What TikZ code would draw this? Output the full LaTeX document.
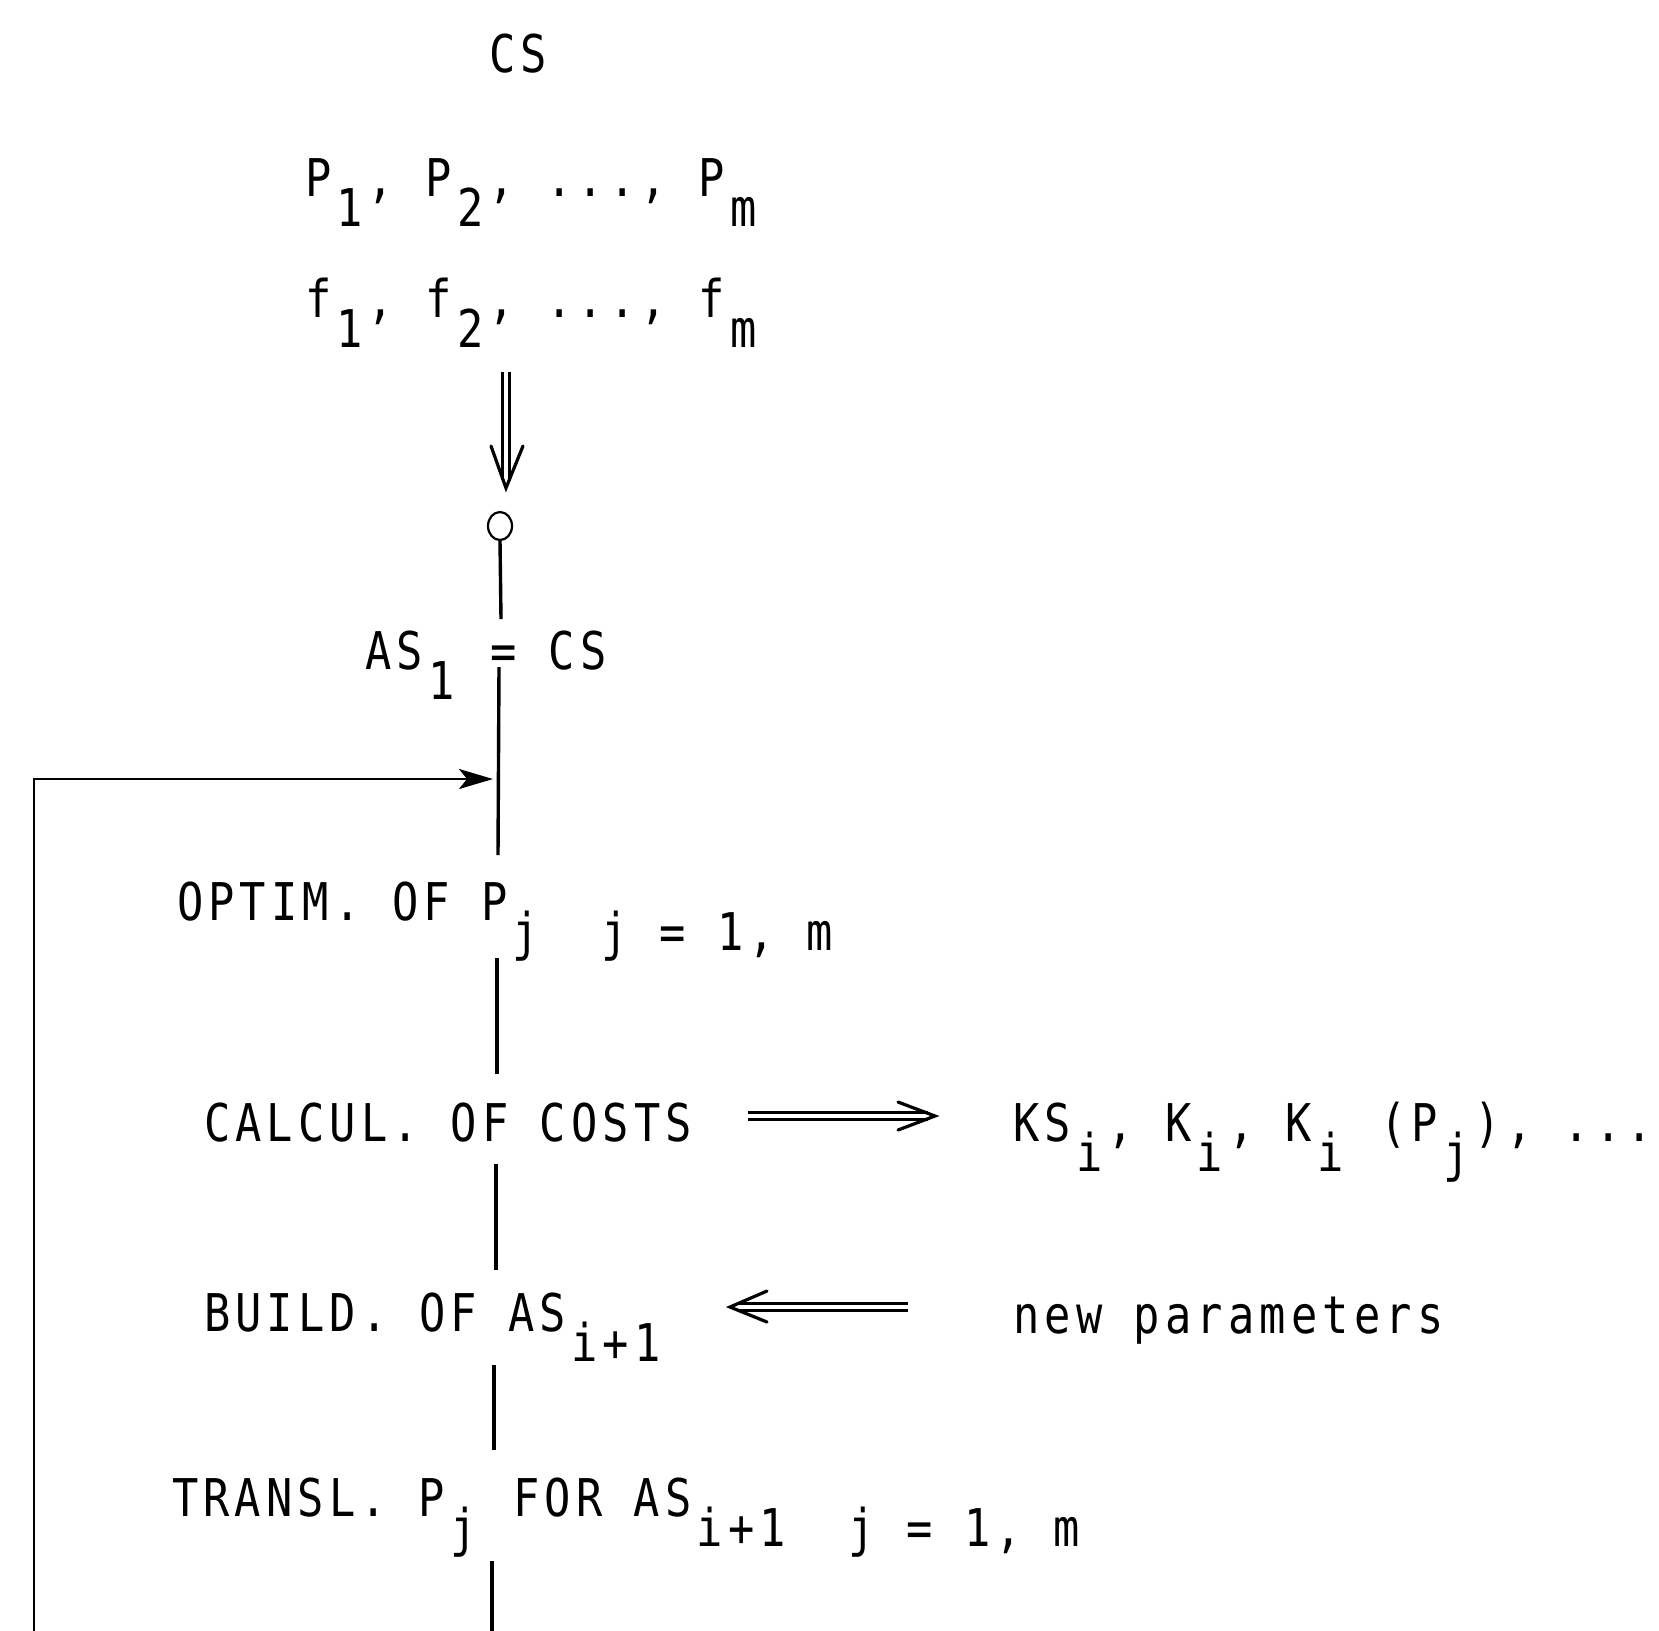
\documentclass[tikz,border=0pt]{standalone}
\usepackage{fontspec}
\setmonofont{DejaVu Sans Mono}[FakeStretch=0.84,LetterSpace=10]
\usetikzlibrary{arrows.meta,shapes.geometric}
\newcommand\lo[1]{\kern2.6pt\raisebox{-15pt}{#1\kern2.6pt}}
\newcommand\mytt{\ttfamily\fontsize{26}{30}\selectfont
  \spaceskip=15.7pt\relax\xspaceskip=15.7pt\relax}
\frenchspacing
\begin{document}
\begin{tikzpicture}[x=0.5pt,y=-0.5pt,
  txt/.style={inner sep=0pt,outer sep=0pt,anchor=base west,font=\mytt},
  spine/.style={line width=1.7pt},
  dshaft/.style={double,double distance=2.4pt,line width=1.3pt},
  barb/.style={line width=1.6pt,line join=miter,line cap=round},
]
\useasboundingbox (0,0) rectangle (1659,1630);
% texts
\node[txt,anchor=base] (cs) at (518,72) {CS};
\node[txt] (prow) at (305,196) {P\lo{1}, P\lo{2}, ..., P\lo{m}};
\node[txt] (frow) at (305,317) {f\lo{1}, f\lo{2}, ..., f\lo{m}};
\node[txt] (as) at (365,669) {AS\lo{1} = CS};
\node[txt] (optim) at (177,920) {OPTIM. OF P\lo{j\ \ j = 1, m}};
\node[txt] (calc) at (204,1141) {CALCUL. OF COSTS};
\node[txt] (ks) at (1013,1141) {KS\lo{i}, K\lo{i}, K\lo{i} (P\lo{j}), ...};
\node[txt] (build) at (204,1331) {BUILD. OF AS\lo{i+1}};
\node[txt] (newp) at (1013,1333) {new parameters};
\node[txt] (transl) at (172,1516) {TRANSL. P\lo{j} FOR AS\lo{i+1\ \ j = 1, m}};
% start circle
\node[draw,ellipse,minimum width=12pt,minimum height=14pt,inner sep=0pt,line width=1.1pt] (o) at (500,526) {};
% spine coordinates
\coordinate (ta) at (506,372);
\coordinate (tb) at (506,480);
\coordinate (tt) at (506,488);
\coordinate (a1) at (501,619);
\coordinate (a2) at (499,667);
\coordinate (a3) at (498,855);
\coordinate (b1) at (497,958);
\coordinate (b2) at (497,1074);
\coordinate (c1) at (496,1164);
\coordinate (c2) at (496,1270);
\coordinate (d1) at (494,1365);
\coordinate (d2) at (494,1450);
\coordinate (e1) at (492,1561);
\coordinate (e2) at (492,1640);
\coordinate (fb0) at (34,1640);
\coordinate (fb1) at (34,779);
\coordinate (fbt) at (493,779);
\coordinate (r1) at (748,1116);
\coordinate (r2) at (928,1116);
\coordinate (rt) at (935,1116);
\coordinate (l1) at (908,1307);
\coordinate (l2) at (737,1307);
\coordinate (lt) at (730,1307);
% connectors
\draw[dshaft] (ta) -- (tb);
\draw[barb] (tt) ++(-15,-42) -- (tt) -- ++(17,-42);
\draw[spine] (o.south) -- (a1);
\draw[spine] (a2) -- (a3);
\draw[spine] (b1) -- (b2);
\draw[spine] (c1) -- (c2);
\draw[spine] (d1) -- (d2);
\draw[spine] (e1) -- (e2);
\draw[line width=1.35pt,-{Stealth[length=17pt,width=10pt,inset=4pt]}] (fb0) -- (fb1) -- (fbt);
\draw[dshaft] (r1) -- (r2);
\draw[barb] (rt) ++(-37,-14) -- (rt) -- ++(-37,14);
\draw[dshaft] (l1) -- (l2);
\draw[barb] (lt) ++(37,-16) -- (lt) -- ++(37,15);
\end{tikzpicture}
\end{document}
